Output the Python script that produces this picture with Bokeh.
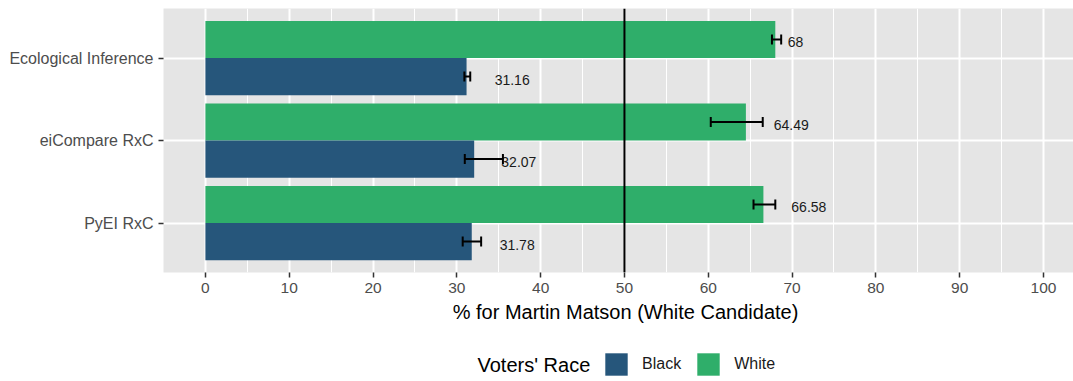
import numpy as np
from bokeh.plotting import figure
from bokeh.layouts import column
from bokeh.models import (Range1d, FixedTicker, Span, Whisker, TeeHead, ColumnDataSource,
                          Legend, LegendItem, Label)
from bokeh.embed import file_html
from bokeh.resources import INLINE
from bokeh.core.properties import value

# ---- data (top to bottom order) ----
methods = ["Ecological Inference", "eiCompare RxC", "PyEI RxC"]
white_pct = [68.0, 64.49, 66.58]
white_lo = [67.6, 60.3, 65.4]
white_hi = [68.7, 66.5, 68.0]
black_pct = [31.16, 32.07, 31.78]
black_lo = [30.9, 30.95, 30.7]
black_hi = [31.6, 35.5, 32.9]
white_label_x = [70.4, 69.9, 72.0]
black_label_x = [36.6, 37.4, 37.2]
x_ticks = list(range(0, 101, 10))
x_minor = list(range(5, 100, 10))
x_title = "% for Martin Matson (White Candidate)"
legend_title = "Voters' Race"
race_names = ["Black", "White"]
threshold = 50

BLUE = "#26567B"
GREEN = "#2FAE6A"
FONT = "Liberation Sans"
W = 1073
H1 = 300
H2 = 81
LEFT = 163

n = len(methods)
ypos = np.arange(n, 0, -1).astype(float)  # top category highest
dodge = 0.225

white_src = ColumnDataSource(dict(
    y=ypos + dodge, v=white_pct, lo=white_lo, hi=white_hi,
    lx=white_label_x, txt=[f"{v:g}" for v in white_pct]))
black_src = ColumnDataSource(dict(
    y=ypos - dodge, v=black_pct, lo=black_lo, hi=black_hi,
    lx=black_label_x, txt=[f"{v:g}" for v in black_pct]))

p = figure(width=W, height=H1, x_range=Range1d(-5, 103.58), y_range=Range1d(0.4, n + 0.6),
           output_backend="svg", toolbar_location=None,
           min_border_left=LEFT, min_border_right=0, min_border_top=8, min_border_bottom=28)
p.background_fill_color = "#E5E5E5"
p.border_fill_color = "white"
p.outline_line_color = None

# axes
p.xaxis.ticker = FixedTicker(ticks=x_ticks, minor_ticks=x_minor)
p.yaxis.ticker = FixedTicker(ticks=list(ypos))
p.yaxis.major_label_overrides = {float(y): m for y, m in zip(ypos, methods)}
for ax in (p.xaxis, p.yaxis):
    ax.axis_line_color = None
    ax.major_tick_line_color = "#333333"
    ax.major_tick_line_width = 1.5
    ax.major_tick_out = 5
    ax.major_tick_in = 0
    ax.minor_tick_line_color = None
    ax.major_label_text_font = FONT
    ax.major_label_text_color = "#4D4D4D"
p.xaxis.major_label_text_font_size = "15.5px"
p.yaxis.major_label_text_font_size = "16px"
p.xaxis.major_label_standoff = 5
p.yaxis.major_label_standoff = 5

# grid
p.xgrid.ticker = FixedTicker(ticks=x_ticks, minor_ticks=x_minor)
p.xgrid.grid_line_color = "white"
p.xgrid.grid_line_width = 2
p.xgrid.minor_grid_line_color = "white"
p.xgrid.minor_grid_line_width = 1
p.ygrid.ticker = FixedTicker(ticks=list(ypos))
p.ygrid.grid_line_color = "white"
p.ygrid.grid_line_width = 2

# bars
rw = p.hbar(y="y", left=0, right="v", height=0.45, source=white_src, fill_color=GREEN, line_color=None)
rb = p.hbar(y="y", left=0, right="v", height=0.45, source=black_src, fill_color=BLUE, line_color=None)

# error bars (drawn above the bars)
for src in (white_src, black_src):
    w = Whisker(source=src, base="y", lower="lo", upper="hi", dimension="width",
                line_color="black", line_width=2, level="annotation",
                lower_head=TeeHead(size=10, line_color="black", line_width=2),
                upper_head=TeeHead(size=10, line_color="black", line_width=2))
    p.add_layout(w)

# value labels
for src in (white_src, black_src):
    p.text(x="lx", y="y", text="txt", source=src, text_font=value(FONT), text_font_size="14px",
           text_color="#1A1A1A", text_align="center", text_baseline="middle", y_offset=3)

# threshold line
p.add_layout(Span(location=threshold, dimension="height", line_color="black", line_width=2))

# ---- lower strip: axis title + legend (x in page pixels; frame aligned with the plot above) ----
q = figure(width=W, height=H2, x_range=Range1d(LEFT, W), y_range=Range1d(0, H2),
           output_backend="svg", toolbar_location=None,
           x_axis_location=None, y_axis_location=None,
           min_border_left=LEFT, min_border_right=0, min_border_top=0, min_border_bottom=0)
q.grid.visible = False
q.outline_line_color = None
q.background_fill_color = "white"
q.border_fill_color = "white"

q.add_layout(Label(x=625, y=H2, text=x_title, text_align="center", text_baseline="top",
                   text_font=FONT, text_font_size="20px", text_color="black"))
q.add_layout(Label(x=477, y=17, text=legend_title, text_align="left", text_baseline="middle",
                   text_font=FONT, text_font_size="20px", text_color="black"))

# legend swatches (renderers lie outside the visible range; only their legend glyphs show)
lb = q.hbar(y=[-1000], left=[LEFT], right=[LEFT + 1], height=1, fill_color=BLUE, line_color=None)
lw = q.hbar(y=[-1000], left=[LEFT], right=[LEFT + 1], height=1, fill_color=GREEN, line_color=None)
legend = Legend(items=[LegendItem(label=race_names[0], renderers=[lb]),
                       LegendItem(label=race_names[1], renderers=[lw])],
                orientation="horizontal", location=(602 - LEFT, 3))
legend.label_text_font = FONT
legend.label_text_font_size = "16px"
legend.label_text_color = "#1A1A1A"
legend.glyph_width = 28
legend.glyph_height = 28
legend.label_standoff = 12
legend.spacing = 13
legend.padding = 0
legend.margin = 0
legend.border_line_color = None
legend.background_fill_alpha = 0
q.add_layout(legend, "center")

open("out.html", "w").write(file_html(column(p, q, spacing=0), INLINE))
